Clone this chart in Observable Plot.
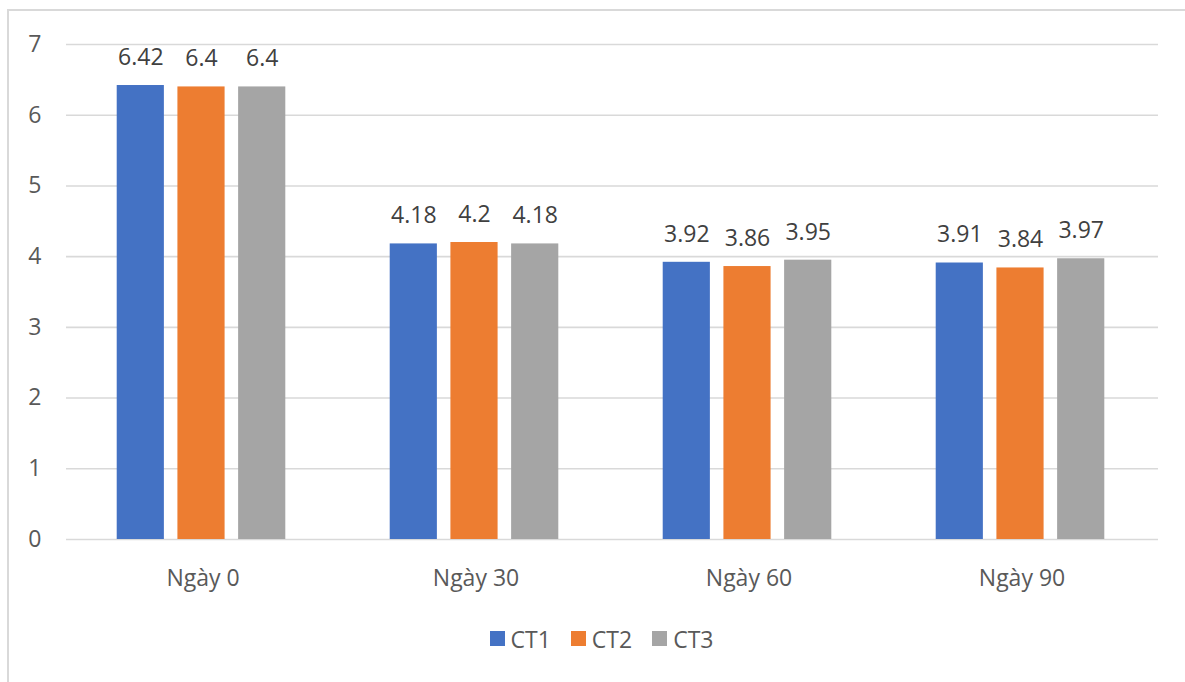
<!DOCTYPE html>
<html><head><meta charset="utf-8">
<script src="https://cdn.jsdelivr.net/npm/d3@7"></script>
<script src="https://cdn.jsdelivr.net/npm/@observablehq/plot@0.6"></script>
<style>
body{margin:0;background:#fff;font-family:"Open Sans",sans-serif;}
#wrap{position:relative;width:1185px;height:682px;overflow:hidden;background:#fff;}
#frame{position:absolute;left:7px;top:9px;width:1220px;height:720px;border:2px solid #d9d9d9;box-sizing:border-box;}
#chart{position:absolute;left:0;top:0;}
#legend{position:absolute;top:622px;left:0;width:1185px;display:flex;justify-content:center;padding-left:38px;box-sizing:border-box;}
#legend span{margin-right:20px !important;}
#legend span svg{margin-right:6px !important;}
</style>
</head><body>
<div id="wrap"><div id="frame"></div><div id="chart"></div><div id="legend"></div></div>
<script>
const days = ["Ngày 0", "Ngày 30", "Ngày 60", "Ngày 90"];
const series = ["CT1", "CT2", "CT3"];
const ct1 = [6.42, 4.18, 3.92, 3.91];
const ct2 = [6.4, 4.2, 3.86, 3.84];
const ct3 = [6.4, 4.18, 3.95, 3.97];
const colors = ["#4472C4", "#ED7D31", "#A5A5A5"];
const yTicks = [0, 1, 2, 3, 4, 5, 6, 7];

const values = [ct1, ct2, ct3];
const data = days.flatMap((d, i) => values.map((arr, j) => ({day: d, series: series[j], value: arr[i]})));

const chart = Plot.plot({
  width: 1185, height: 600,
  marginLeft: 65, marginRight: 27, marginTop: 44, marginBottom: 61,
  style: {fontFamily: "Open Sans, sans-serif", fontSize: "23px", color: "#595959", background: "transparent"},
  fx: {domain: days, padding: 0, label: null},
  x: {domain: series, paddingInner: 0.223, paddingOuter: 0.86, round: false, axis: null},
  y: {domain: [0, 7], label: null},
  color: {domain: series, range: colors},
  marks: [
    Plot.ruleY(yTicks, {stroke: "#d9d9d9", strokeWidth: 1.6}),
    Plot.axisY(yTicks, {tickSize: 0, tickPadding: 25, label: null, fontSize: 23, fill: "#595959", tickFormat: d => String(d)}),
    Plot.barY(data, {fx: "day", x: "series", y: "value", fill: "series", dx: -1.5}),
    Plot.text(data, {fx: "day", x: "series", y: "value", text: d => String(d.value), dy: -28, dx: -1.5, fill: "#404040", fontSize: 23}),
    Plot.axisFx({anchor: "bottom", tickSize: 0, tickPadding: 30, label: null, fontSize: 23, fill: "#595959"})
  ]
});
document.getElementById("chart").appendChild(chart);

const legend = Plot.legend({
  color: {domain: series, range: colors},
  legend: "swatches",
  swatchSize: 15,
  style: {fontFamily: "Open Sans, sans-serif", fontSize: "23px", color: "#595959", background: "transparent"}
});
document.getElementById("legend").appendChild(legend);
</script>
</body></html>
